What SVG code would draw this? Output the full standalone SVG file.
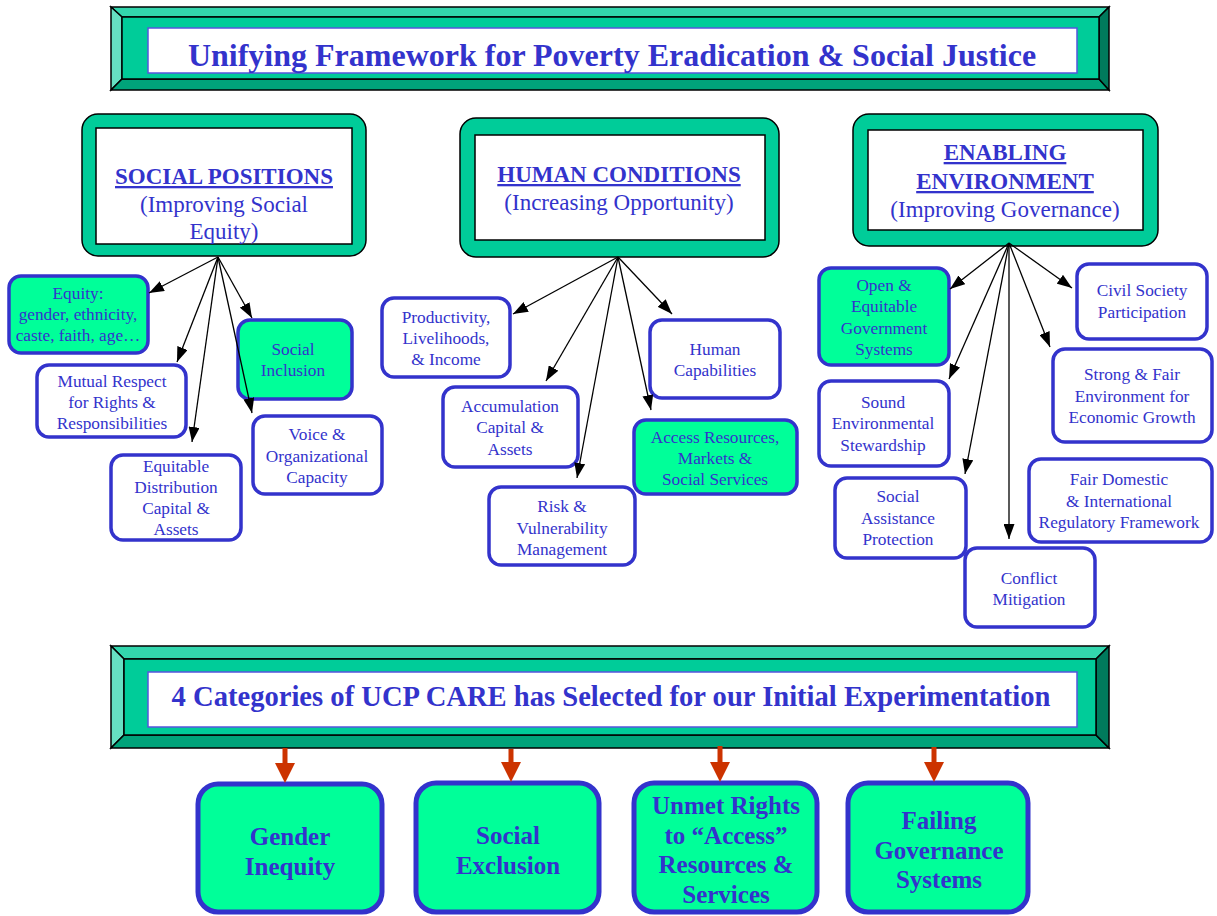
<svg xmlns="http://www.w3.org/2000/svg" width="1217" height="916" viewBox="0 0 1217 916">
<style>
.t{font-family:"Liberation Serif","Times New Roman",serif;fill:#3333cc;text-anchor:middle}
.n{font-size:17.3px}
.hb{font-size:23px;font-weight:bold;text-decoration:underline}
.hr{font-size:23px}
.bb{font-size:25px;font-weight:bold}
.node{stroke:#3333cc;stroke-width:3.5}
.w{fill:#ffffff}
.g{fill:#00ff99}
.big{fill:#00ff99;stroke:#3333cc;stroke-width:5}
.hdr{fill:#00cc99;stroke:#000;stroke-width:1.5}
.hin{fill:#ffffff;stroke:#000;stroke-width:1.5}
.c{stroke:#000;stroke-width:1.3;fill:none}
.r{stroke:#cc3300;stroke-width:5;fill:none}
.bv{stroke:#000;stroke-width:1.5}
</style>
<defs>
<marker id="ah" markerUnits="userSpaceOnUse" markerWidth="15" markerHeight="11" refX="15" refY="5.5" orient="auto"><path d="M0,0 L15,5.5 L0,11 z" fill="#000"/></marker>
<marker id="rh" markerUnits="userSpaceOnUse" markerWidth="20" markerHeight="20" refX="0" refY="10" orient="auto"><path d="M0,0 L20,10 L0,20 z" fill="#cc3300"/></marker>
</defs>

<g id="title-banner">
<polygon points="111,7 1109,7 1099,17 122,17" fill="#33d6ad" class="bv"/>
<polygon points="111,7 122,17 122,79 111,90" fill="#66e0c2" class="bv"/>
<polygon points="111,90 122,79 1099,79 1109,90" fill="#00a37a" class="bv"/>
<polygon points="1109,7 1109,90 1099,79 1099,17" fill="#007a5c" class="bv"/>
<rect x="122" y="17" width="977" height="62" fill="#00cc99" class="bv"/>
<rect x="148" y="28" width="929" height="45" fill="#fff" stroke="#5555dd" stroke-width="1.5"/>
<text class="t" x="612" y="66" style="font-size:32px;font-weight:bold">Unifying Framework for Poverty Eradication &amp; Social Justice</text>
</g>

<g id="social-positions">
<rect x="82" y="114" width="284" height="142" rx="16" class="hdr"/>
<rect x="96" y="128" width="256" height="116" class="hin"/>
<text class="t hb" x="224" y="184">SOCIAL POSITIONS</text>
<text class="t hr" x="224" y="212">(Improving Social</text>
<text class="t hr" x="224" y="239">Equity)</text>
</g>

<g id="human-conditions">
<rect x="460" y="118" width="319" height="139" rx="16" class="hdr"/>
<rect x="475" y="135" width="290" height="105" class="hin"/>
<text class="t hb" x="619" y="182">HUMAN CONDITIONS</text>
<text class="t hr" x="619" y="210">(Increasing Opportunity)</text>
</g>

<g id="enabling-environment">
<rect x="853" y="114" width="305" height="132" rx="16" class="hdr"/>
<rect x="868" y="130" width="275" height="100" class="hin"/>
<text class="t hb" x="1005" y="160">ENABLING</text>
<text class="t hb" x="1005" y="189">ENVIRONMENT</text>
<text class="t hr" x="1005" y="217">(Improving Governance)</text>
</g>

<g id="equity">
<rect x="9" y="276" width="139" height="77" rx="12" class="node g"/>
<text class="t n" x="78" y="299">Equity:</text>
<text class="t n" x="78" y="320">gender, ethnicity,</text>
<text class="t n" x="78" y="341">caste, faith, age…</text>
</g>
<g id="mutual-respect">
<rect x="37" y="365" width="149" height="72" rx="12" class="node w"/>
<text class="t n" x="112" y="387">Mutual Respect</text>
<text class="t n" x="112" y="408">for Rights &amp;</text>
<text class="t n" x="112" y="429">Responsibilities</text>
</g>
<g id="social-inclusion">
<rect x="238" y="320" width="114" height="79" rx="12" class="node g"/>
<text class="t n" x="293" y="355">Social</text>
<text class="t n" x="293" y="376">Inclusion</text>
</g>
<g id="voice">
<rect x="253" y="416" width="129" height="78" rx="12" class="node w"/>
<text class="t n" x="317" y="440">Voice &amp;</text>
<text class="t n" x="317" y="462">Organizational</text>
<text class="t n" x="317" y="483">Capacity</text>
</g>
<g id="equitable-distribution">
<rect x="111" y="455" width="130" height="85" rx="12" class="node w"/>
<text class="t n" x="176" y="472">Equitable</text>
<text class="t n" x="176" y="493">Distribution</text>
<text class="t n" x="176" y="514">Capital &amp;</text>
<text class="t n" x="176" y="535">Assets</text>
</g>

<g id="productivity">
<rect x="382" y="298" width="128" height="79" rx="12" class="node w"/>
<text class="t n" x="446" y="323">Productivity,</text>
<text class="t n" x="446" y="344">Livelihoods,</text>
<text class="t n" x="446" y="365">&amp; Income</text>
</g>
<g id="human-capabilities">
<rect x="650" y="320" width="130" height="78" rx="12" class="node w"/>
<text class="t n" x="715" y="355">Human</text>
<text class="t n" x="715" y="376">Capabilities</text>
</g>
<g id="accumulation">
<rect x="443" y="387" width="135" height="80" rx="12" class="node w"/>
<text class="t n" x="510" y="412">Accumulation</text>
<text class="t n" x="510" y="433">Capital &amp;</text>
<text class="t n" x="510" y="455">Assets</text>
</g>
<g id="access-resources">
<rect x="634" y="420" width="163" height="74" rx="12" class="node g"/>
<text class="t n" x="715" y="443">Access Resources,</text>
<text class="t n" x="715" y="464">Markets &amp;</text>
<text class="t n" x="715" y="485">Social Services</text>
</g>
<g id="risk">
<rect x="489" y="487" width="146" height="78" rx="12" class="node w"/>
<text class="t n" x="562" y="512">Risk &amp;</text>
<text class="t n" x="562" y="534">Vulnerability</text>
<text class="t n" x="562" y="555">Management</text>
</g>

<g id="open-equitable">
<rect x="819" y="268" width="130" height="97" rx="12" class="node g"/>
<text class="t n" x="884" y="291">Open &amp;</text>
<text class="t n" x="884" y="312">Equitable</text>
<text class="t n" x="884" y="334">Government</text>
<text class="t n" x="884" y="355">Systems</text>
</g>
<g id="civil-society">
<rect x="1077" y="264" width="130" height="75" rx="12" class="node w"/>
<text class="t n" x="1142" y="296">Civil Society</text>
<text class="t n" x="1142" y="318">Participation</text>
</g>
<g id="sound-environmental">
<rect x="819" y="381" width="130" height="85" rx="12" class="node w"/>
<text class="t n" x="883" y="408">Sound</text>
<text class="t n" x="883" y="429">Environmental</text>
<text class="t n" x="883" y="451">Stewardship</text>
</g>
<g id="strong-fair">
<rect x="1053" y="349" width="159" height="93" rx="12" class="node w"/>
<text class="t n" x="1132" y="380">Strong &amp; Fair</text>
<text class="t n" x="1132" y="402">Environment for</text>
<text class="t n" x="1132" y="423">Economic Growth</text>
</g>
<g id="social-assistance">
<rect x="835" y="478" width="131" height="80" rx="12" class="node w"/>
<text class="t n" x="898" y="502">Social</text>
<text class="t n" x="898" y="524">Assistance</text>
<text class="t n" x="898" y="545">Protection</text>
</g>
<g id="fair-domestic">
<rect x="1029" y="459" width="183" height="83" rx="12" class="node w"/>
<text class="t n" x="1119" y="485">Fair Domestic</text>
<text class="t n" x="1119" y="507">&amp; International</text>
<text class="t n" x="1119" y="528">Regulatory Framework</text>
</g>
<g id="conflict-mitigation">
<rect x="965" y="548" width="130" height="79" rx="12" class="node w"/>
<text class="t n" x="1029" y="584">Conflict</text>
<text class="t n" x="1029" y="605">Mitigation</text>
</g>

<g id="categories-banner">
<polygon points="111,646 1109,646 1096,659 124,659" fill="#33d6ad" class="bv"/>
<polygon points="111,646 124,659 124,735 111,748" fill="#66e0c2" class="bv"/>
<polygon points="111,748 124,735 1096,735 1109,748" fill="#00a37a" class="bv"/>
<polygon points="1109,646 1109,748 1096,735 1096,659" fill="#007a5c" class="bv"/>
<rect x="124" y="659" width="972" height="76" fill="#00cc99" class="bv"/>
<rect x="148" y="672" width="929" height="55" fill="#fff" stroke="#5555dd" stroke-width="1.5"/>
<text class="t" x="611" y="706" style="font-size:28.6px;font-weight:bold">4 Categories of UCP CARE has Selected for our Initial Experimentation</text>
</g>

<g id="gender-inequity">
<rect x="198" y="784" width="184" height="128" rx="20" class="big"/>
<text class="t bb" x="290" y="845">Gender</text>
<text class="t bb" x="290" y="875">Inequity</text>
</g>
<g id="social-exclusion">
<rect x="416" y="783" width="183" height="129" rx="20" class="big"/>
<text class="t bb" x="508" y="844">Social</text>
<text class="t bb" x="508" y="874">Exclusion</text>
</g>
<g id="unmet-rights">
<rect x="634" y="783" width="183" height="129" rx="20" class="big"/>
<text class="t bb" x="726" y="814">Unmet Rights</text>
<text class="t bb" x="726" y="844">to “Access”</text>
<text class="t bb" x="726" y="873">Resources &amp;</text>
<text class="t bb" x="726" y="903">Services</text>
</g>
<g id="failing-governance">
<rect x="848" y="783" width="180" height="129" rx="20" class="big"/>
<text class="t bb" x="939" y="829">Failing</text>
<text class="t bb" x="939" y="859">Governance</text>
<text class="t bb" x="939" y="888">Systems</text>
</g>

<g id="connectors">
<line class="c" x1="218" y1="257" x2="149" y2="293" marker-end="url(#ah)"/>
<line class="c" x1="218" y1="257" x2="177" y2="362" marker-end="url(#ah)"/>
<line class="c" x1="218" y1="257" x2="192" y2="442" marker-end="url(#ah)"/>
<line class="c" x1="218" y1="257" x2="252" y2="413" marker-end="url(#ah)"/>
<line class="c" x1="218" y1="257" x2="252" y2="318" marker-end="url(#ah)"/>

<line class="c" x1="618" y1="257" x2="513" y2="314" marker-end="url(#ah)"/>
<line class="c" x1="618" y1="257" x2="546" y2="381" marker-end="url(#ah)"/>
<line class="c" x1="618" y1="257" x2="577" y2="478" marker-end="url(#ah)"/>
<line class="c" x1="618" y1="257" x2="651" y2="410" marker-end="url(#ah)"/>
<line class="c" x1="618" y1="257" x2="672" y2="314" marker-end="url(#ah)"/>

<line class="c" x1="1009" y1="243" x2="950" y2="289" marker-end="url(#ah)"/>
<line class="c" x1="1009" y1="243" x2="949" y2="379" marker-end="url(#ah)"/>
<line class="c" x1="1009" y1="243" x2="965" y2="474" marker-end="url(#ah)"/>
<line class="c" x1="1009" y1="243" x2="1009" y2="539" marker-end="url(#ah)"/>
<line class="c" x1="1009" y1="243" x2="1050" y2="347" marker-end="url(#ah)"/>
<line class="c" x1="1009" y1="243" x2="1072" y2="288" marker-end="url(#ah)"/>

<line class="r" x1="285" y1="748" x2="285" y2="763" marker-end="url(#rh)"/>
<line class="r" x1="511" y1="749" x2="511" y2="762" marker-end="url(#rh)"/>
<line class="r" x1="720" y1="746" x2="720" y2="762" marker-end="url(#rh)"/>
<line class="r" x1="934" y1="747" x2="934" y2="762" marker-end="url(#rh)"/>
</g>
</svg>
